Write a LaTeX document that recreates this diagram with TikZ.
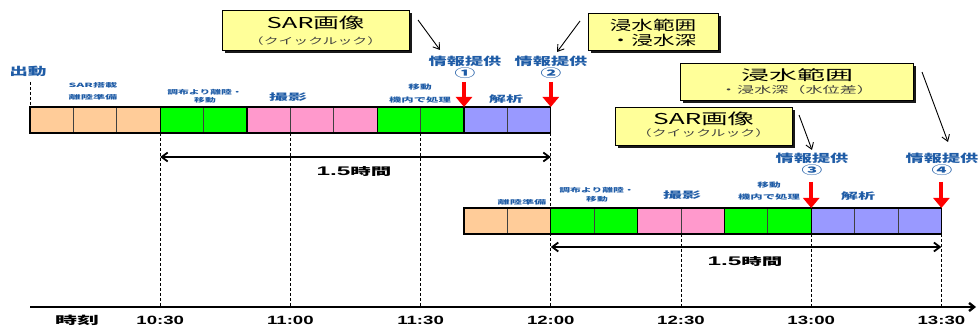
\documentclass[tikz,border=0pt]{standalone}
\usepackage{fontspec}
\setmainfont{Liberation Sans}
\newfontfamily\jp{Noto Sans CJK JP}
\usetikzlibrary{arrows.meta,shadows}
\definecolor{corg}{HTML}{FFCC99}
\definecolor{cgrn}{HTML}{00FF00}
\definecolor{cpnk}{HTML}{FF99CC}
\definecolor{cblu}{HTML}{9999FF}
\definecolor{ltxt}{HTML}{1F5CA6}
\definecolor{cyel}{HTML}{FFFF99}
\newcommand{\sx}[2]{\scalebox{#1}[1]{#2}}
\newcommand{\fs}[1]{\fontsize{#1}{#1}\selectfont}
\begin{document}
\begin{tikzpicture}[x=1pt,y=-1pt,
 cellbox/.style={draw=black!75, line width=0.7pt},
 barframe/.style={draw=black, line width=1.3pt},
 guide/.style={line width=0.8pt, dash pattern=on 3pt off 2pt},
 lbl/.style={text=ltxt, font=\jp\bfseries, inner sep=0pt},
 blk/.style={text=black, inner sep=0pt},
 infoarrow/.style={draw=red, line width=4pt, -{Triangle[length=10pt,width=16pt]}},
 callout/.style={line width=0.9pt, -{Straight Barb[length=6pt,width=8pt]}},
 spanarrow/.style={line width=1.8pt, {Straight Barb[length=6pt,width=9pt]}-{Straight Barb[length=6pt,width=9pt]}},
 ybox/.style={draw=black, line width=0.8pt, fill=cyel, inner sep=0pt,
   drop shadow={shadow xshift=3pt, shadow yshift=-3pt, fill=black, opacity=0.9}}
]
\useasboundingbox (0,0) rectangle (979,328);

% ---------- guide lines ----------
\coordinate (g0a) at (30,82);   \coordinate (g0b) at (30,107);
\foreach \n/\x in {1/160.2,2/290.4,3/420.6,4/550.8} {
  \coordinate (g\n a) at (\x,133); \coordinate (g\n b) at (\x,307);
  \draw[guide] (g\n a) -- (g\n b);
}
\foreach \n/\x in {5/681,6/811.2,7/941.4} {
  \coordinate (g\n a) at (\x,234); \coordinate (g\n b) at (\x,307);
  \draw[guide] (g\n a) -- (g\n b);
}
\draw[guide] (g0a) -- (g0b);

% ---------- row 1 ----------
\foreach \i/\c in {0/corg,1/corg,2/corg,3/cgrn,4/cgrn,5/cpnk,6/cpnk,7/cpnk,8/cgrn,9/cgrn,10/cblu,11/cblu}
  \draw[cellbox, fill=\c] ({30+\i*43.4},107) rectangle ({30+(\i+1)*43.4},133);
\foreach \x in {160.2,247,377.2,464} \draw[line width=1.1pt] (\x,107) -- (\x,133);
\draw[barframe] (30,107) rectangle (550.8,133);

% ---------- row 2 ----------
\foreach \i/\c in {0/corg,1/corg,2/cgrn,3/cgrn,4/cpnk,5/cpnk,6/cgrn,7/cgrn,8/cblu,9/cblu,10/cblu}
  \draw[cellbox, fill=\c] ({464+\i*43.4},208) rectangle ({464+(\i+1)*43.4},234);
\foreach \x in {550.8,637.6,724.4,811.2} \draw[line width=1.1pt] (\x,208) -- (\x,234);
\draw[barframe] (464,208) rectangle (941.4,234);
\draw[guide] (550.8,208) -- (550.8,234);

% ---------- time axis ----------
\coordinate (ax0) at (30,307);
\coordinate (ax1) at (976,307);
\draw[line width=2.4pt, -{Straight Barb[length=5pt,width=8pt]}] (ax0) -- (ax1);
\node[blk, font=\jp\bfseries\fs{11}] (tj) at (77,320) {\sx{2.0}{時刻}};
\foreach \x/\t in {160.2/10:30,290.4/11:00,420.6/11:30,550.8/12:00,681/12:30,811.2/13:00,941.4/13:30}
  \node[blk, font=\bfseries\fs{12}] at (\x,320) {\sx{1.55}{\t}};

% ---------- span arrows ----------
\coordinate (s1a) at (160.2,157); \coordinate (s1b) at (550.8,157);
\draw[spanarrow] (s1a) -- (s1b);
\node[blk, font=\bfseries\fs{12.5}] (sp1) at (354,172) {\sx{1.95}{1.5{\jp\fs{10.5}時間}}};
\coordinate (s2a) at (550.8,247); \coordinate (s2b) at (941.4,247);
\draw[spanarrow] (s2a) -- (s2b);
\node[blk, font=\bfseries\fs{12.5}] (sp2) at (745,262) {\sx{1.95}{1.5{\jp\fs{10.5}時間}}};

% ---------- red info arrows ----------
\coordinate (r1a) at (464,82);    \coordinate (r1b) at (464,107);
\coordinate (r2a) at (550.8,82);  \coordinate (r2b) at (550.8,107);
\coordinate (r3a) at (811.2,182); \coordinate (r3b) at (811.2,208);
\coordinate (r4a) at (941.4,182); \coordinate (r4b) at (941.4,208);
\foreach \n in {1,2,3,4} \draw[infoarrow] (r\n a) -- (r\n b);

% ---------- info labels ----------
\node[lbl, font=\jp\bfseries\fs{11}] (i1) at (465,61) {\sx{1.65}{情報提供}};
\node[lbl, font=\jp\bfseries\fs{11.5}] (n1) at (465,73) {\sx{1.8}{①}};
\node[lbl, font=\jp\bfseries\fs{11}] (i2) at (551,61) {\sx{1.65}{情報提供}};
\node[lbl, font=\jp\bfseries\fs{11.5}] (n2) at (551,73) {\sx{1.8}{②}};
\node[lbl, font=\jp\bfseries\fs{11}] (i3) at (812,158) {\sx{1.65}{情報提供}};
\node[lbl, font=\jp\bfseries\fs{11.5}] (n3) at (812,170) {\sx{1.8}{③}};
\node[lbl, font=\jp\bfseries\fs{11}] (i4) at (942,158) {\sx{1.65}{情報提供}};
\node[lbl, font=\jp\bfseries\fs{11.5}] (n4) at (942,170) {\sx{1.8}{④}};

% ---------- phase labels ----------
\node[lbl, font=\jp\bfseries\fs{11}] (l0) at (28,71) {\sx{1.7}{出動}};
\node[lbl, font=\jp\bfseries\fs{5.8}] (l1a) at (93,85) {\sx{2.1}{SAR搭載}};
\node[lbl, font=\jp\bfseries\fs{5.8}] (l1b) at (93,97) {\sx{2.1}{離陸準備}};
\node[lbl, font=\jp\bfseries\fs{6}] (l2a) at (205,92) {\sx{1.8}{調布より離陸・}};
\node[lbl, font=\jp\bfseries\fs{6}] (l2b) at (205,100.5) {\sx{1.8}{移動}};
\node[lbl, font=\jp\bfseries\fs{9}] (l3) at (288,97.5) {\sx{2.1}{撮影}};
\node[lbl, font=\jp\bfseries\fs{6.5}] (l4a) at (420,87) {\sx{1.8}{移動}};
\node[lbl, font=\jp\bfseries\fs{6.5}] (l4b) at (420,100) {\sx{1.9}{機内で処理}};
\node[lbl, font=\jp\bfseries\fs{9}] (l5) at (506,99) {\sx{1.9}{解析}};

\node[lbl, font=\jp\bfseries\fs{5.8}] (m1) at (522,202) {\sx{2.1}{離陸準備}};
\node[lbl, font=\jp\bfseries\fs{6}] (m2a) at (597,190.5) {\sx{1.8}{調布より離陸・}};
\node[lbl, font=\jp\bfseries\fs{6}] (m2b) at (597,199) {\sx{1.8}{移動}};
\node[lbl, font=\jp\bfseries\fs{9}] (m3) at (682,195) {\sx{2.1}{撮影}};
\node[lbl, font=\jp\bfseries\fs{6.5}] (m4a) at (769,185) {\sx{1.8}{移動}};
\node[lbl, font=\jp\bfseries\fs{6.5}] (m4b) at (769,197) {\sx{1.9}{機内で処理}};
\node[lbl, font=\jp\bfseries\fs{9}] (m5) at (858,196) {\sx{1.9}{解析}};

% ---------- yellow callout boxes ----------
\node[ybox, minimum width=187pt, minimum height=40pt] (b1) at (315.5,30) {};
\node[blk, font=\jp\fs{15}] at (315.5,23) {\sx{1.7}{SAR画像}};
\node[blk, font=\jp\fs{9}, text=black!75] at (315.5,41) {\sx{1.65}{（クイックルック）}};

\node[ybox, minimum width=130pt, minimum height=37pt] (b2) at (653,31.5) {};
\node[blk, font=\jp\fs{13.5}] at (653,25) {\sx{1.6}{浸水範囲}};
\node[blk, font=\jp\fs{13.5}] at (653,40) {\sx{1.6}{・浸水深}};

\node[ybox, minimum width=233pt, minimum height=37pt] (b3) at (796.5,81.5) {};
\node[blk, font=\jp\fs{14}] at (797,75) {\sx{2.0}{浸水範囲}};
\node[blk, font=\jp\fs{9.5}, text=black!75] at (797,90) {\sx{1.8}{・浸水深（水位差）}};

\node[ybox, minimum width=177pt, minimum height=38pt] (b4) at (703.5,126) {};
\node[blk, font=\jp\fs{15}] at (703.5,119) {\sx{1.75}{SAR画像}};
\node[blk, font=\jp\fs{9}, text=black!75] at (703.5,133) {\sx{1.65}{（クイックルック）}};

% ---------- callout arrows ----------
\coordinate (c1a) at (418,20);  \coordinate (c1b) at (440,50);
\coordinate (c2a) at (580,21);  \coordinate (c2b) at (557,52);
\coordinate (c3a) at (799,115); \coordinate (c3b) at (812,150);
\coordinate (c4a) at (922,72);  \coordinate (c4b) at (948,142);
\foreach \n in {1,2,3,4} \draw[callout] (c\n a) -- (c\n b);
\end{tikzpicture}
\end{document}
